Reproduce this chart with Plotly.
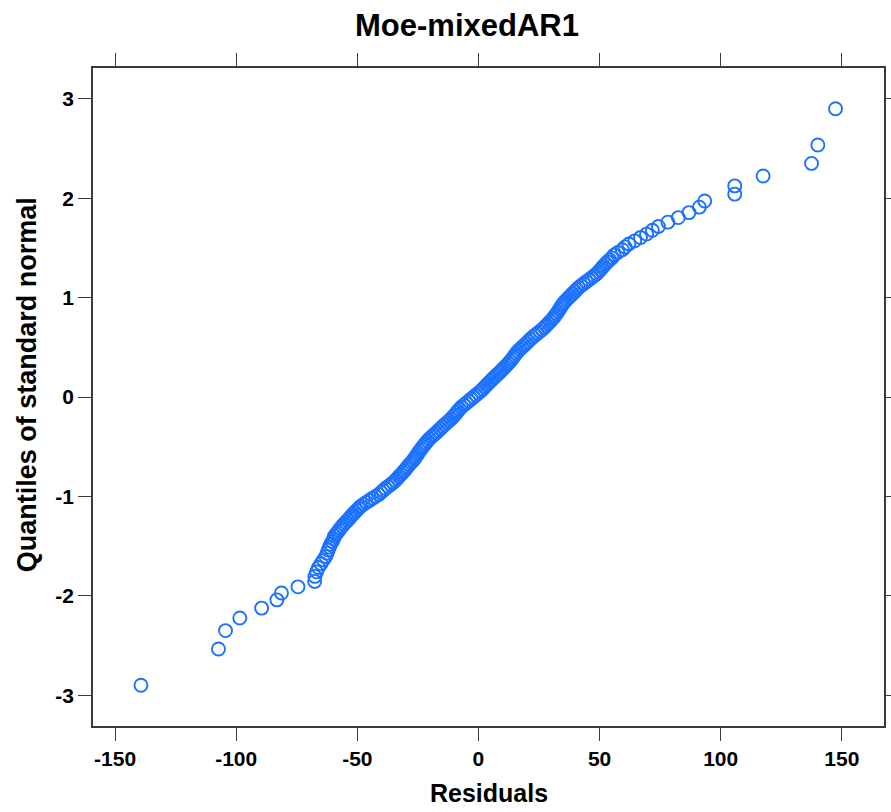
import plotly.graph_objects as go

# Sorted residuals (x) and matching standard-normal quantiles (y)
quantiles = [
    -2.900, -2.535, -2.350, -2.223, -2.124, -2.041, -1.972, -1.910, -1.855, -1.805,
    -1.759, -1.716, -1.677, -1.639, -1.604, -1.571, -1.540, -1.510, -1.481, -1.454,
    -1.428,
    -1.40, -1.38, -1.36, -1.34, -1.32, -1.30, -1.28, -1.26, -1.24, -1.22,
    -1.20, -1.18, -1.16, -1.14, -1.12, -1.10, -1.08, -1.06, -1.04, -1.02,
    -1.00, -0.98, -0.96, -0.94, -0.92, -0.90, -0.88, -0.86, -0.84, -0.82,
    -0.80, -0.78, -0.76, -0.74, -0.72, -0.70, -0.68, -0.66, -0.64, -0.62,
    -0.60, -0.58, -0.56, -0.54, -0.52, -0.50, -0.48, -0.46, -0.44, -0.42,
    -0.40, -0.38, -0.36, -0.34, -0.32, -0.30, -0.28, -0.26, -0.24, -0.22,
    -0.20, -0.18, -0.16, -0.14, -0.12, -0.10, -0.08, -0.06, -0.04, -0.02,
    0.00, 0.02, 0.04, 0.06, 0.08, 0.10, 0.12, 0.14, 0.16, 0.18,
    0.20, 0.22, 0.24, 0.26, 0.28, 0.30, 0.32, 0.34, 0.36, 0.38,
    0.40, 0.42, 0.44, 0.46, 0.48, 0.50, 0.52, 0.54, 0.56, 0.58,
    0.60, 0.62, 0.64, 0.66, 0.68, 0.70, 0.72, 0.74, 0.76, 0.78,
    0.80, 0.82, 0.84, 0.86, 0.88, 0.90, 0.92, 0.94, 0.96, 0.98,
    1.00, 1.02, 1.04, 1.06, 1.08, 1.10, 1.12, 1.14, 1.16, 1.18,
    1.20, 1.22, 1.24, 1.26, 1.28, 1.30, 1.32, 1.34, 1.36, 1.38,
    1.40,
    1.428, 1.454, 1.481, 1.510, 1.540, 1.571, 1.604, 1.639, 1.677, 1.716,
    1.759, 1.805, 1.855, 1.910, 1.972, 2.041, 2.124, 2.223, 2.350, 2.535,
    2.900,
]

residuals = [
    -139.3, -107.3, -104.4, -98.5, -89.5, -83.2, -81.3, -74.5, -67.6, -67.5,
    -66.8, -66.0, -65.0, -64.0, -63.0, -62.5, -62.0, -61.5, -61.0, -60.3,
    -59.8,
    -59.5, -58.8, -58.2, -57.5, -57.0, -56.3, -55.6, -54.8, -54.0, -53.2,
    -52.6, -51.8, -51.0, -50.2, -49.4, -48.6, -47.5, -46.3, -45.0, -43.8,
    -42.5, -41.2, -40.2, -39.3, -38.4, -37.3, -36.2, -35.2, -34.3, -33.5,
    -32.8, -32.0, -31.2, -30.5, -29.8, -29.2, -28.5, -27.8, -27.0, -26.4,
    -25.9, -25.3, -24.8, -24.2, -23.6, -23.0, -22.3, -21.7, -21.0, -20.2,
    -19.3, -18.4, -17.5, -16.6, -15.7, -14.9, -14.0, -13.1, -12.2, -11.3,
    -10.5, -9.8, -9.1, -8.5, -7.8, -7.0, -6.0, -5.0, -4.0, -3.0,
    -2.0, -1.0, 0.0, 1.0, 1.8, 2.6, 3.4, 4.2, 5.0, 5.8,
    6.6, 7.5, 8.4, 9.2, 10.0, 10.8, 11.6, 12.4, 13.1, 13.8,
    14.4, 15.0, 15.6, 16.3, 17.1, 18.0, 18.9, 19.8, 20.6, 21.4,
    22.3, 23.3, 24.3, 25.3, 26.3, 27.2, 28.0, 28.8, 29.6, 30.4,
    31.1, 31.7, 32.3, 32.9, 33.4, 33.9, 34.4, 35.0, 35.7, 36.5,
    37.3, 38.1, 38.9, 39.7, 40.5, 41.3, 42.3, 43.4, 44.5, 45.6,
    46.7, 47.8, 48.8, 49.6, 50.3, 51.0, 51.7, 52.5, 53.3, 54.2,
    55.1,
    56.0, 57.5, 59.4, 60.5, 62.1, 64.5, 66.9, 69.4, 71.8, 74.3,
    78.2, 82.5, 86.9, 91.2, 93.4, 105.8, 105.8, 117.5, 137.5, 140.1,
    147.4,
]

x_ticks = [-150, -100, -50, 0, 50, 100, 150]
y_ticks = [-3, -2, -1, 0, 1, 2, 3]

title_text = "Moe-mixedAR1"
x_label = "Residuals"
y_label = "Quantiles of standard normal"

FONT = "Liberation Sans, Arial, sans-serif"
AXIS_COL = "#3a3a3a"
POINT_COL = "#1c72ff"

fig = go.Figure()
fig.add_trace(go.Scatter(
    x=residuals, y=quantiles, mode="markers",
    marker=dict(symbol="circle-open", size=13, color=POINT_COL,
                line=dict(width=1.9, color=POINT_COL)),
    showlegend=False, hoverinfo="x+y",
))

axis_common = dict(
    showline=True, linecolor=AXIS_COL, linewidth=1.5, mirror="ticks",
    ticks="outside", ticklen=13, tickwidth=1.3, tickcolor=AXIS_COL,
    showgrid=False, zeroline=False, automargin=False,
    tickfont=dict(family=FONT, size=21, color="#000000", weight="bold"),
)

fig.update_xaxes(range=[-159.1, 167.4], tickvals=x_ticks,
                 ticktext=[str(v) for v in x_ticks], **axis_common)
fig.update_yaxes(range=[-3.31, 3.31], tickvals=y_ticks,
                 ticktext=[str(v) for v in y_ticks], **axis_common)

fig.update_layout(
    width=891, height=812,
    margin=dict(l=93, r=7, t=68, b=86, autoexpand=False),
    paper_bgcolor="white", plot_bgcolor="white",
    annotations=[
        dict(text="<b>" + title_text + "</b>", xref="paper", yref="paper",
             x=0.4728, y=1.0653, xanchor="center", yanchor="middle",
             showarrow=False, font=dict(family=FONT, size=31, color="black")),
        dict(text="<b>" + x_label + "</b>", xref="paper", yref="paper",
             x=0.5, y=-0.1018, xanchor="center", yanchor="middle",
             showarrow=False, font=dict(family=FONT, size=25, color="black")),
        dict(text="<b>" + y_label + "</b>", xref="paper", yref="paper",
             x=-0.0834, y=0.518, xanchor="center", yanchor="middle", textangle=-90,
             showarrow=False, font=dict(family=FONT, size=27, color="black")),
    ],
)

fig.write_html(
    "out.html",
    config={"displayModeBar": False},
    post_script="document.body.style.margin='0';document.body.style.overflow='hidden';",
)
